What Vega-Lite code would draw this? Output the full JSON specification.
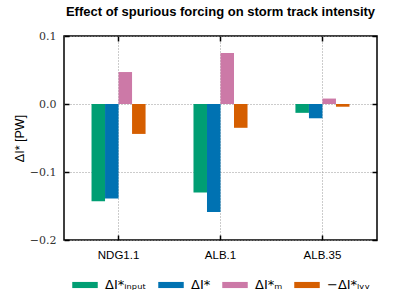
{
  "$schema": "https://vega.github.io/schema/vega-lite/v6.json",
  "width": 313,
  "height": 204,
  "padding": {"left": 13, "right": 17, "top": 6, "bottom": 5},
  "background": "white",
  "title": {"text": "Effect of spurious forcing on storm track intensity", "font": "Liberation Sans", "fontSize": 13, "fontWeight": "bold", "color": "black", "offset": 11},
  "config": {"view": {"stroke": "black", "strokeWidth": 1.5}},
  "data": {"values": [
    {"run": "NDG1.1", "series": "ΔI*ᵢₙₚᵤₜ", "value": -0.143},
    {"run": "NDG1.1", "series": "ΔI*", "value": -0.139},
    {"run": "NDG1.1", "series": "ΔI*ₘ", "value": 0.047},
    {"run": "NDG1.1", "series": "−ΔI*ₗᵥᵥ", "value": -0.044},
    {"run": "ALB.1", "series": "ΔI*ᵢₙₚᵤₜ", "value": -0.130},
    {"run": "ALB.1", "series": "ΔI*", "value": -0.159},
    {"run": "ALB.1", "series": "ΔI*ₘ", "value": 0.075},
    {"run": "ALB.1", "series": "−ΔI*ₗᵥᵥ", "value": -0.035},
    {"run": "ALB.35", "series": "ΔI*ᵢₙₚᵤₜ", "value": -0.013},
    {"run": "ALB.35", "series": "ΔI*", "value": -0.021},
    {"run": "ALB.35", "series": "ΔI*ₘ", "value": 0.008},
    {"run": "ALB.35", "series": "−ΔI*ₗᵥᵥ", "value": -0.004}
  ]},
  "layer": [
    {
      "mark": {"type": "bar"},
      "encoding": {
        "x": {"field": "run", "type": "nominal", "sort": ["NDG1.1", "ALB.1", "ALB.35"],
          "scale": {"paddingInner": 0.47, "paddingOuter": 0.27},
          "axis": {"title": null, "labelAngle": 0, "labelFont": "Liberation Sans", "labelFontSize": 11.5, "labelColor": "black", "labelPadding": 9, "offset": -5,
            "tickSize": 5, "tickColor": "black", "tickWidth": 1.5, "domain": false, "grid": true, "gridDash": [1, 2], "gridColor": "#999999", "tickBand": "center"}},
        "xOffset": {"field": "series", "type": "nominal", "sort": ["ΔI*ᵢₙₚᵤₜ", "ΔI*", "ΔI*ₘ", "−ΔI*ₗᵥᵥ"], "scale": {"paddingInner": 0, "paddingOuter": 0}},
        "y": {"field": "value", "type": "quantitative",
          "scale": {"domain": [-0.2, 0.1], "nice": false},
          "axis": {"title": "ΔI*  [PW]", "titleFont": "Liberation Sans", "titleFontSize": 12.5, "titleFontWeight": "normal", "titleColor": "black", "titlePadding": 3,
            "values": [-0.2, -0.1, 0, 0.1], "format": ".1f", "labelExpr": "replace(datum.label, '-', '−')", "offset": -5,
            "labelFont": "DejaVu Serif", "labelFontSize": 11, "labelColor": "#333", "labelPadding": 8,
            "tickSize": 5, "tickColor": "black", "tickWidth": 1.5, "domain": false, "grid": true, "gridDash": [1, 2], "gridColor": "#999999"}},
        "color": {"field": "series", "type": "nominal", "sort": ["ΔI*ᵢₙₚᵤₜ", "ΔI*", "ΔI*ₘ", "−ΔI*ₗᵥᵥ"],
          "scale": {"range": ["#009E73", "#0072B2", "#CC79A7", "#D55E00"]},
          "legend": {"title": null, "orient": "bottom", "direction": "horizontal", "columns": 4, "padding": 8,
            "symbolType": "M-1,-0.24H1V0.24H-1Z", "symbolSize": 650, "symbolStrokeWidth": 0, "symbolOpacity": 1,
            "labelFont": "DejaVu Sans", "labelFontSize": 13, "labelColor": "black", "columnPadding": 11, "labelOffset": 7, "offset": 3}}
      }
    },
    {
      "mark": {"type": "bar", "opacity": 0},
      "encoding": {
        "x": {"field": "run", "type": "nominal", "sort": ["NDG1.1", "ALB.1", "ALB.35"],
          "axis": {"orient": "top", "title": null, "labels": false, "offset": -5, "tickSize": 5, "tickColor": "black", "tickWidth": 1.5, "domain": false, "grid": false, "tickBand": "center"}},
        "y": {"field": "value", "type": "quantitative",
          "axis": {"orient": "right", "title": null, "labels": false, "offset": -5, "values": [-0.2, -0.1, 0, 0.1], "tickSize": 5, "tickColor": "black", "tickWidth": 1.5, "domain": false, "grid": false}}
      }
    }
  ],
  "resolve": {"axis": {"x": "independent", "y": "independent"}}
}
